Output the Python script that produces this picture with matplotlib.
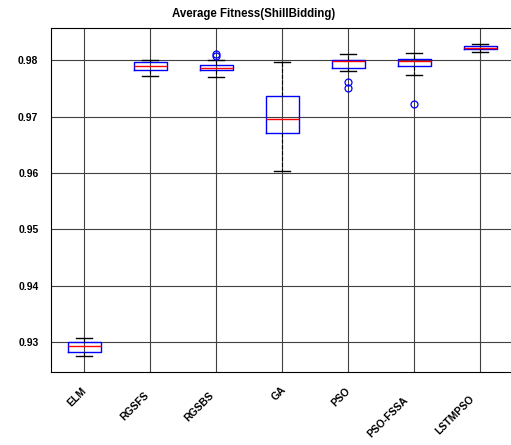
import matplotlib
matplotlib.use("Agg")
import matplotlib.pyplot as plt
import matplotlib.transforms as mtransforms
from matplotlib.font_manager import FontProperties

# ----------------------------------------------------------------------
# Box statistics (MATLAB style boxplot)
# ----------------------------------------------------------------------
methods = ["ELM", "RGSFS", "RGSBS", "GA", "PSO", "PSO-FSSA", "LSTMPSO"]
q1 = [0.92833, 0.97823, 0.97823, 0.96716, 0.97858, 0.97894, 0.98195]
med = [0.92934, 0.97904, 0.97863, 0.96959, 0.97982, 0.97982, 0.98218]
q3 = [0.93000, 0.97965, 0.97911, 0.97372, 0.98011, 0.98023, 0.98248]
whislo = [0.92762, 0.97716, 0.97704, 0.96032, 0.97810, 0.97734, 0.98152]
whishi = [0.93076, 0.98005, 0.98005, 0.97975, 0.98106, 0.98124, 0.98289]
fliers = [[], [], [0.98103, 0.98067], [], [0.97615, 0.97507], [0.97220], []]
yticks = [0.93, 0.94, 0.95, 0.96, 0.97, 0.98]

plt.rcParams["font.family"] = ["Liberation Sans", "DejaVu Sans"]

stats = []
for i, name in enumerate(methods):
    stats.append({
        "label": name, "med": med[i], "q1": q1[i], "q3": q3[i],
        "whislo": whislo[i], "whishi": whishi[i], "fliers": fliers[i],
    })

fig = plt.figure(figsize=(5.11, 4.45), dpi=100)
ax = fig.add_axes([51 / 511, 1 - 371.7 / 445, 462 / 511, (371.7 - 28) / 445])

positions = list(range(1, len(methods) + 1))
ax.bxp(
    stats, positions=positions, widths=0.5,
    boxprops=dict(color="blue", linewidth=1.0),
    medianprops=dict(color="red", linewidth=1.0),
    whiskerprops=dict(color="black", linewidth=0.8, linestyle="--"),
    capprops=dict(color="black", linewidth=1.0),
    flierprops=dict(marker="o", markerfacecolor="none", markeredgecolor="blue",
                    markersize=5, markeredgewidth=0.9),
    capwidths=0.25,
)

ax.set_xlim(0.5, 7.5)
ax.set_ylim(0.9248, 0.9857)
ax.set_yticks(yticks)
ax.set_yticklabels([f"{v:.2f}" for v in yticks], fontsize=7.5, fontweight="bold")
ax.set_xticks(positions)
ax.set_xticklabels([])
ax.tick_params(axis="both", length=0)
ax.tick_params(axis="y", pad=9)

ax.grid(True, color="0.25", linewidth=0.8)
ax.set_axisbelow(True)
for s in ax.spines.values():
    s.set_color("black")
    s.set_linewidth(0.8)

# rotated category labels, staggered like the MATLAB export
fp = FontProperties(family="Liberation Sans", weight="bold", size=7.5)
renderer = fig.canvas.get_renderer()
base = ax.get_xaxis_transform()
for x, name in zip(positions, methods):
    w, h, d = renderer.get_text_width_height_descent(name, fp, ismath=False)
    slide = 0.4 * w * 0.707
    dx = (3.5 - slide) / fig.dpi
    dy = (-8.0 - slide) / fig.dpi
    tr = base + mtransforms.ScaledTranslation(dx, dy, fig.dpi_scale_trans)
    ax.text(x, 0, name, transform=tr, rotation=45, rotation_mode="anchor",
            ha="right", va="top", fontproperties=fp, clip_on=False)

fig.text(254 / 511, 1 - 14 / 445, "Average Fitness(ShillBidding)", ha="center",
         va="center", fontsize=8.3, fontweight="bold")

fig.savefig("out.png", dpi=100)
